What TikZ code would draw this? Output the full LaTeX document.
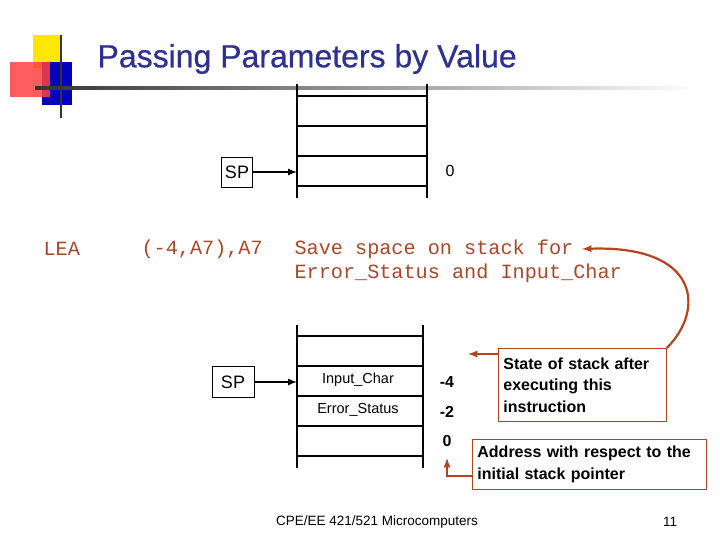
\documentclass[tikz,border=0pt]{standalone}
\usepackage{fontspec}
\setmainfont{Liberation Sans}
\setmonofont{Liberation Mono}
\definecolor{rb}{HTML}{B3441E}
\definecolor{codec}{HTML}{A8482A}
\definecolor{tblue}{HTML}{2E3192}
\begin{document}
\begin{tikzpicture}[x=1pt,y=-1pt,
  stk/.style={line width=1.2pt},
  sp/.style={draw,line width=0.8pt,inner sep=0pt,minimum width=30pt,minimum height=30pt},
  arr/.style={line width=2pt,-latex},
  note/.style={draw=rb,line width=0.8pt,align=left,inner sep=5pt},
  rarr/.style={draw=rb,line width=2.2pt,-latex},
  code/.style={font=\ttfamily\fontsize{20.2}{24}\selectfont,text=codec,anchor=west}]
\useasboundingbox (0,0) rectangle (720,540);
% logo
\fill[yellow!90!orange] (33,35) rectangle (62,68);
\fill[blue!75!black] (42,62) rectangle (72,105);
\fill[red!75,opacity=0.85] (10,62) rectangle (50,97);
\shade[left color=black!80,right color=white] (35,87) rectangle (700,90);
\draw[line width=1.5pt,black!80] (61,35) -- (61,118);
\node[anchor=west,font=\fontsize{32}{36}\selectfont,text=tblue] (title) at (94,59) {\addfontfeature{FakeBold=0.6}Passing Parameters by Value};
% top stack
\draw[stk] (297,84) -- (297,198) (427,84) -- (427,198);
\foreach \y in {96,126,156,186} \draw[stk] (297,\y) -- (427,\y);
\node[sp,minimum width=31pt,font=\fontsize{18}{20}\selectfont] (sp1) at (237,172) {SP};
\coordinate (s1) at (297,172);
\draw[arr] (sp1) -- (s1);
\node[font=\fontsize{16}{18}\selectfont] (z1) at (450,171) {0};
% code line
\node[code] (lea) at (40,249) {LEA};
\node[code] (op) at (138,249) {(-4,A7),A7};
\node[code] (c1) at (291,249) {Save space on stack for};
\node[code] (c2) at (291,273) {Error\_Status and Input\_Char};
% bottom stack
\draw[stk] (297,325) -- (297,468) (423,325) -- (423,468);
\foreach \y in {336,366,396,426,456} \draw[stk] (297,\y) -- (423,\y);
\node[font=\fontsize{14.5}{16}\selectfont] (ic) at (358,380) {Input\_Char};
\node[font=\fontsize{14.5}{16}\selectfont] (es) at (358,410) {Error\_Status};
\node[sp,minimum width=42pt,minimum height=31pt,font=\fontsize{18}{20}\selectfont] (sp2) at (233,382) {SP};
\coordinate (s2) at (297,382);
\draw[arr] (sp2) -- (s2);
\node[font=\bfseries\fontsize{16}{18}\selectfont] (m4) at (447,382) {-4};
\node[font=\bfseries\fontsize{16}{18}\selectfont] (m2) at (447,412) {-2};
\node[font=\bfseries\fontsize{16}{18}\selectfont] (z2) at (447,441) {0};
% notes
\node[note,anchor=north west,text width=158pt,minimum height=73pt,font=\bfseries\fontsize{16}{21.5}\selectfont] (state) at (498,348) {State of stack after\\executing this\\instruction};
\coordinate (sa) at (468,354);
\draw[rarr] (state.north west |- sa) -- (sa);
\coordinate (ct) at (582,249);
\draw[rarr] (state.north east) .. controls (705,310) and (700,245) .. (ct);
\node[note,anchor=north west,text width=224pt,minimum height=50pt,font=\bfseries\fontsize{16}{22}\selectfont] (addr) at (472,439) {Address with respect to the\\initial stack pointer};
\coordinate (at) at (447,458);
\draw[rarr] (addr.west |- 0,476) -- (447,476) -- (at);
% footer
\node[font=\fontsize{13.5}{15}\selectfont] (foot) at (377,522) {CPE/EE 421/521 Microcomputers};
\node[font=\fontsize{13.5}{15}\selectfont] (pg) at (670,522) {11};
\end{tikzpicture}
\end{document}
